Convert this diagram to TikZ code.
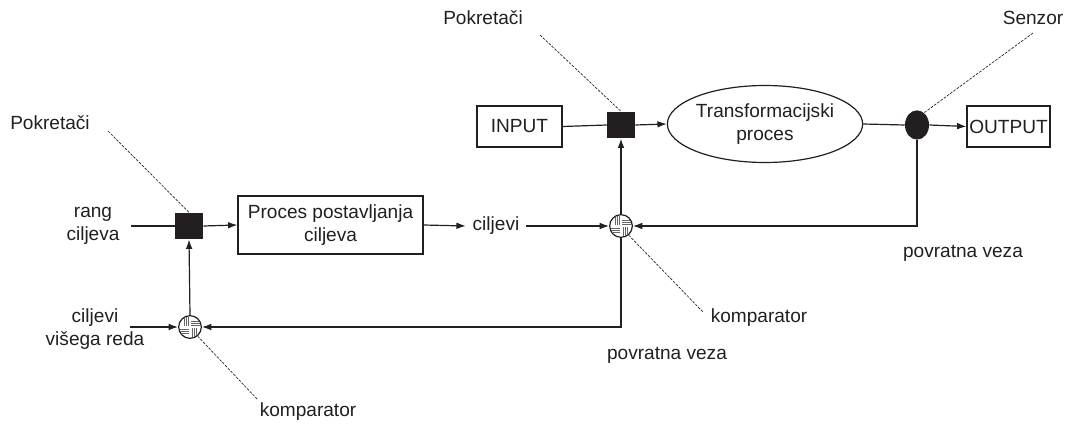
\documentclass[tikz,border=0pt]{standalone}
\usepackage{fontspec}
\setmainfont{Liberation Sans}
\usetikzlibrary{arrows.meta,shapes.geometric}
\definecolor{ink}{HTML}{231F20}
\newcommand\cmphatch[1]{%
  \begin{scope}[shift={(#1)}]
    \clip (0,0) circle (11);
    \foreach \d in {-6,-4,-2} \draw[draw=black!60,line width=0.5pt] (\d,-1) -- (\d,-10);
    \foreach \d in {-6,-4,-2} \draw[draw=black!60,line width=0.5pt] (1,\d) -- (10,\d);
    \foreach \d in {2,4,6} \draw[draw=black!60,line width=0.5pt] (-10,\d) -- (-1,\d);
    \foreach \d in {2,4,6} \draw[draw=black!60,line width=0.5pt] (\d,1) -- (\d,10);
  \end{scope}}
\begin{document}
\begin{tikzpicture}[x=0.75pt,y=-0.75pt,
  every node/.style={font=\fontsize{14.3}{17.5}\selectfont, text=ink},
  line/.style={draw=ink, line width=0.9pt},
  arr/.style={line, -{Latex[length=7pt,width=5pt]}},
  lead/.style={draw=ink, line width=0.5pt, dash pattern=on 2pt off 1pt},
  box/.style={draw=ink, line width=0.9pt, inner sep=0pt, align=center},
  act/.style={fill=ink, minimum width=21pt, minimum height=20pt, inner sep=0pt},
  sens/.style={ellipse, fill=ink, minimum width=18pt, minimum height=22pt, inner sep=0pt},
  comp/.style={circle, draw=ink, line width=0.9pt, fill=white, minimum size=17pt, inner sep=0pt},
  lbl/.style={align=center, inner sep=1pt}
]
\path[use as bounding box] (0,0) rectangle (1088,428);

% top row
\node[box, minimum width=63.75pt, minimum height=30.75pt] (input) at (519.5,126.5) {INPUT};
\node[act] (act1) at (621,125) {};
\node[ellipse, draw=ink, line width=0.9pt, minimum width=141pt, minimum height=57.75pt, inner sep=0pt, align=center] (trans) at (765,124) {Transformacijski\\proces};
\node[sens] (sens) at (917,125) {};
\node[box, minimum width=62.25pt, minimum height=30.75pt] (output) at (1008.5,126.5) {OUTPUT};

% middle / bottom
\node[act] (act2) at (189,226) {};
\node[box, minimum width=138.75pt, minimum height=43.5pt] (goal) at (330.5,225) {Proces postavljanja\\ciljeva};
\node[lbl, inner xsep=5pt] (cilj) at (496,226) {ciljevi};
\node[comp] (comp1) at (621,226) {};
\cmphatch{621,226}
\node[comp] (comp2) at (190,327) {};
\cmphatch{190,327}

% labels
\node[lbl] (rang) at (93,226) {rang\\ciljeva};
\node[lbl] (visi) at (95,329) {ciljevi\\višega reda};
\node[lbl] (pok1) at (50,123) {Pokretači};
\node[lbl] (pok2) at (483,18) {Pokretači};
\node[lbl] (senz) at (1033,18) {Senzor};
\node[lbl] (kom1) at (759,318) {komparator};
\node[lbl] (kom2) at (308,412) {komparator};
\node[lbl] (pv1) at (963,253) {povratna veza};
\node[lbl] (pv2) at (667,355) {povratna veza};

\coordinate (rangs) at (131,226);
\coordinate (visis) at (130,327);
\coordinate (l1) at (108,131);
\coordinate (l2) at (540,35);
\coordinate (l3) at (1033,33);
\coordinate (l4) at (703,312);
\coordinate (l5) at (258,400);

% connectors
\draw[line] (input.east) -- (act1.west);
\draw[arr] (act1.east) -- (trans.west);
\draw[line] (trans.east) -- (sens.west);
\draw[arr] (sens.east) -- (output.west);
\draw[arr] (sens.south) |- (comp1.east);
\draw[arr] (comp1.north) -- (act1.south);
\draw[arr] (comp1.south) |- (comp2.east);
\draw[line] (rangs) -- (act2.west);
\draw[arr] (act2.east) -- (goal.west);
\draw[arr] (goal.east) -- (cilj.west);
\draw[arr] (cilj.east) -- (comp1.west);
\draw[arr] (visis) -- (comp2.west);
\draw[arr] (comp2.north) -- (act2.south);

% leader lines
\draw[lead] (l1) -- (act2.north);
\draw[lead] (l2) -- (act1.north);
\draw[lead] (l3) -- (sens.60);
\draw[lead] (comp1.-50) -- (l4);
\draw[lead] (comp2.-50) -- (l5);
\end{tikzpicture}
\end{document}
